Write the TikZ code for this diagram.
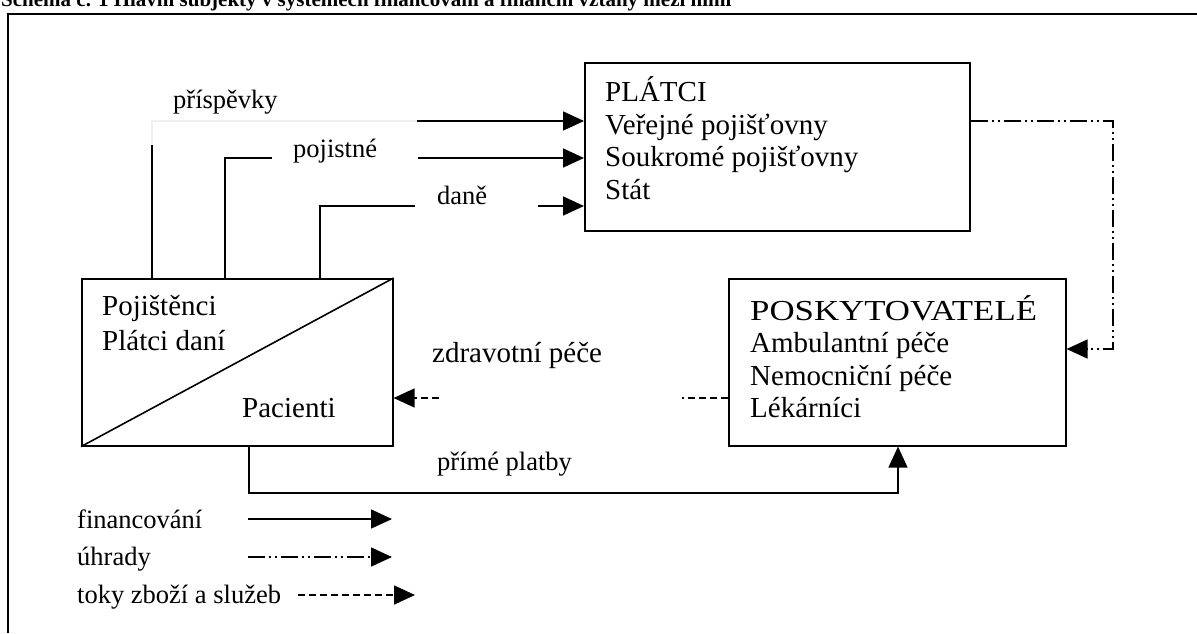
\documentclass[tikz,border=0pt]{standalone}
\usepackage{fontspec}
\setmainfont{Liberation Serif}
\usetikzlibrary{arrows.meta}
\begin{document}
\begin{tikzpicture}[x=1pt,y=-1pt,
  lw/.style={line width=1.6pt},
  box/.style={draw,line width=1.6pt,inner sep=0pt,anchor=north west},
  txt/.style={anchor=base west,inner sep=0pt,font=\fontsize{29}{33}\selectfont},
  lbl/.style={anchor=base west,inner sep=0pt,font=\fontsize{26.5}{30}\selectfont},
  tip/.style={-{Triangle[length=21pt,width=19pt]}},
  dashdot/.style={dash pattern=on 17pt off 4pt on 2pt off 4pt on 2pt off 4pt},
  dsh/.style={dash pattern=on 7pt off 4pt},
  faint/.style={draw=black!6}
]
\clip (0,0) rectangle (1197,633);
\node[anchor=base west, inner sep=0pt, font=\bfseries\fontsize{21}{25}\selectfont] (title) at (1,6) {Schéma č. 1 Hlavní subjekty v systémech financování a finanční vztahy mezi nimi};
\draw[lw] (8,633) -- (8,14) -- (1197,14);

% boxes
\node[box, minimum width=385pt, minimum height=168pt] (platci) at (584,62) {};
\node[box, minimum width=311pt, minimum height=167pt] (pojist) at (81,278) {};
\node[box, minimum width=337pt, minimum height=167pt] (posk) at (728,278) {};
\draw[lw] (pojist.south west) -- (pojist.north east);

% texts
\node[txt] (p1) at (605,101) {PLÁTCI};
\node[txt] (p2) at (605,134) {Veřejné pojišťovny};
\node[txt] (p3) at (605,166) {Soukromé pojišťovny};
\node[txt] (p4) at (605,199) {Stát};
\node[txt] (q1) at (102,315) {Pojištěnci};
\node[txt] (q2) at (102,350) {Plátci daní};
\node[txt] (q3) at (242,417) {Pacienti};
\node[txt] (r1) at (750,320) {\scalebox{1.2}[1]{POSKYTOVATELÉ}};
\node[txt] (r2) at (750,352) {Ambulantní péče};
\node[txt] (r3) at (750,385) {Nemocniční péče};
\node[txt] (r4) at (750,417) {Lékárníci};

% labels
\node[lbl] (lprisp) at (173,108) {příspěvky};
\node[lbl] (lpoj) at (293,157) {pojistné};
\node[lbl] (ldane) at (437,204) {daně};
\node[txt] (lzdr) at (432,362) {zdravotní péče};
\node[lbl] (lprime) at (437,470) {přímé platby};

% financing connectors
\draw[lw] (pojist.north -| 152,0) -- (152,145);
\draw[lw,faint] (152,145) -- (152,121) -- (417,121);
\draw[lw,tip] (417,121) -- (platci.west |- 0,121);
\draw[lw] (pojist.north -| 225,0) -- (225,158) -- (272,158);
\draw[lw,tip] (418,158) -- (platci.west |- 0,158);
\draw[lw] (pojist.north -| 320,0) -- (320,206) -- (415,206);
\draw[lw,tip] (538,206) -- (platci.west |- 0,206);
\draw[lw,tip] (pojist.south -| 249,0) -- (249,493) -- (898,493) -- (posk.south -| 898,0);

% payments
\draw[lw,dashdot,tip] (platci.east |- 0,121) -- (1113,121) -- (1113,349) -- (posk.east |- 0,349);

% goods and services
\draw[lw,dsh] (posk.west |- 0,398) -- (682,398);
\draw[lw,dsh,tip] (439,398) -- (pojist.east |- 0,398);

% legend
\node[lbl] (lg1) at (77,528) {financování};
\node[lbl] (lg2) at (77,565) {úhrady};
\node[lbl] (lg3) at (77,603) {toky zboží a služeb};
\draw[lw,tip] (248,519) -- (392,519);
\draw[lw,dashdot,tip] (248,557) -- (392,557);
\draw[lw,dsh,tip] (298,595) -- (415,595);
\end{tikzpicture}
\end{document}
